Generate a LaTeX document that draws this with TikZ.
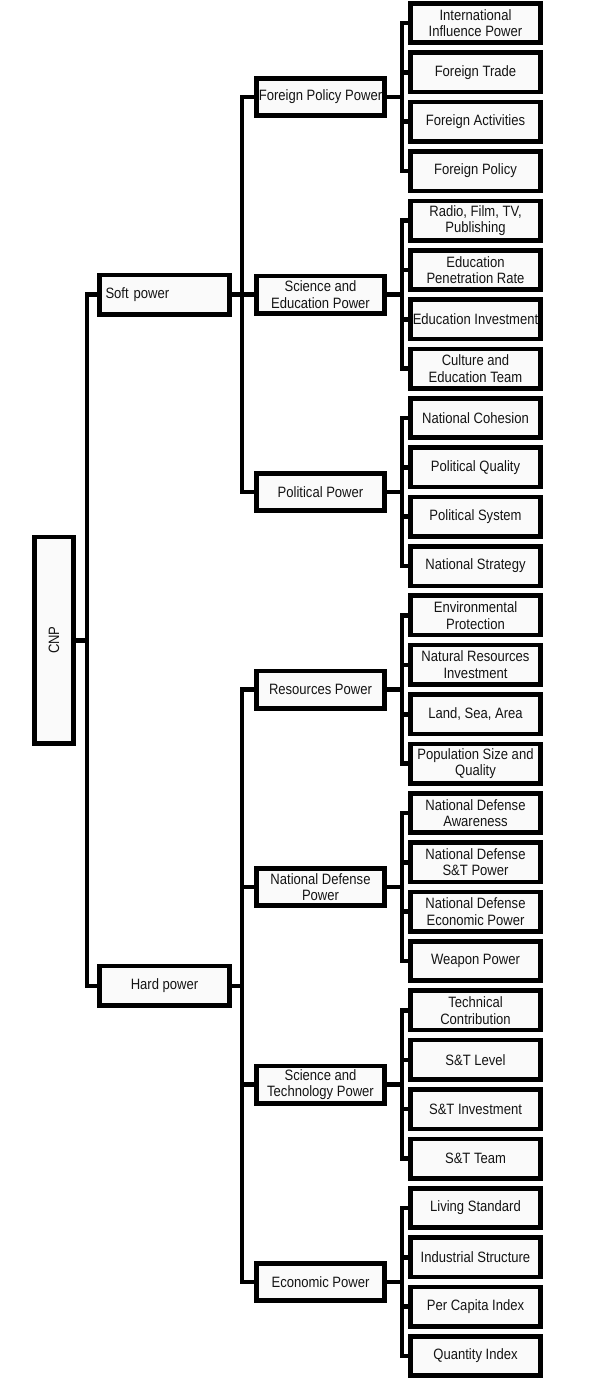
\documentclass[tikz,border=0pt]{standalone}
\usepackage{fontspec}
\setmainfont{Liberation Sans}[FakeStretch=0.87]
\begin{document}
\begin{tikzpicture}[x=1pt,y=-1pt,
  box/.style={draw=black,line width=4.6pt,fill=gray!4,text=black!92,align=center,
    font=\fontsize{15}{16.5}\selectfont,inner sep=1pt},
  leaf/.style={box,minimum width=130.4pt,minimum height=39.4pt},
  mid/.style={box,minimum width=128.4pt,minimum height=37.4pt},
  top/.style={box,minimum width=130.4pt,minimum height=39.4pt},
  conn/.style={draw=black,line width=4.6pt,line join=miter}]
\useasboundingbox (0,0) rectangle (600,1379);
% root
\node[box,minimum width=39.4pt,minimum height=206.4pt] (cnp) at (54,640.2) {};
\node[rotate=90,text=black!92,font=\fontsize{15}{16.5}\selectfont] (cnpt) at (cnp.center) {CNP};
% level 1
\node[top,text width=118pt,align=left] (soft) at (164.5,294.6) {Soft power};
\node[top] (hard) at (164.5,985.8) {Hard power};
% level 2
\node[mid] (fpp) at (320.5,97.0) {Foreign Policy Power};
\node[mid] (sep) at (320.5,294.6) {Science and\\Education Power};
\node[mid] (pp) at (320.5,492.0) {Political Power};
\node[mid] (rp) at (320.5,689.5) {Resources Power};
\node[mid] (ndp) at (320.5,887.0) {National Defense\\Power};
\node[mid] (stp) at (320.5,1084.5) {Science and\\Technology Power};
\node[mid] (ep) at (320.5,1282.0) {Economic Power};
% leaves
\node[leaf] (l0) at (475.5,23.0) {International\\Influence Power};
\node[leaf] (l1) at (475.5,72.4) {Foreign Trade};
\node[leaf] (l2) at (475.5,121.7) {Foreign Activities};
\node[leaf] (l3) at (475.5,171.1) {Foreign Policy};
\node[leaf] (l4) at (475.5,220.5) {Radio, Film, TV,\\Publishing};
\node[leaf] (l5) at (475.5,269.9) {Education\\Penetration Rate};
\node[leaf] (l6) at (475.5,319.2) {Education Investment};
\node[leaf] (l7) at (475.5,368.6) {Culture and\\Education Team};
\node[leaf] (l8) at (475.5,418.0) {National Cohesion};
\node[leaf] (l9) at (475.5,467.3) {Political Quality};
\node[leaf] (l10) at (475.5,516.7) {Political System};
\node[leaf] (l11) at (475.5,566.1) {National Strategy};
\node[leaf] (l12) at (475.5,615.4) {Environmental\\Protection};
\node[leaf] (l13) at (475.5,664.8) {Natural Resources\\Investment};
\node[leaf] (l14) at (475.5,714.2) {Land, Sea, Area};
\node[leaf] (l15) at (475.5,763.6) {Population Size and\\Quality};
\node[leaf] (l16) at (475.5,812.9) {National Defense\\Awareness};
\node[leaf] (l17) at (475.5,862.3) {National Defense\\S\&T Power};
\node[leaf] (l18) at (475.5,911.7) {National Defense\\Economic Power};
\node[leaf] (l19) at (475.5,961.0) {Weapon Power};
\node[leaf] (l20) at (475.5,1010.4) {Technical\\Contribution};
\node[leaf] (l21) at (475.5,1059.8) {S\&T Level};
\node[leaf] (l22) at (475.5,1109.1) {S\&T Investment};
\node[leaf] (l23) at (475.5,1158.5) {S\&T Team};
\node[leaf] (l24) at (475.5,1207.9) {Living Standard};
\node[leaf] (l25) at (475.5,1257.3) {Industrial Structure};
\node[leaf] (l26) at (475.5,1306.6) {Per Capita Index};
\node[leaf] (l27) at (475.5,1356.0) {Quantity Index};
% connectors
\foreach \c in {soft,hard} \draw[conn] (cnp.east) -- ++(11,0) |- (\c.west);
\foreach \c in {fpp,sep,pp} \draw[conn] (soft.east) -- ++(10,0) |- (\c.west);
\foreach \c in {rp,ndp,stp,ep} \draw[conn] (hard.east) -- ++(10,0) |- (\c.west);
\foreach \p/\a/\b in {fpp/0/3,sep/4/7,pp/8/11,rp/12/15,ndp/16/19,stp/20/23,ep/24/27}
  \foreach \i in {\a,...,\b} \draw[conn] (\p.east) -- ++(15,0) |- (l\i.west);
\end{tikzpicture}
\end{document}
